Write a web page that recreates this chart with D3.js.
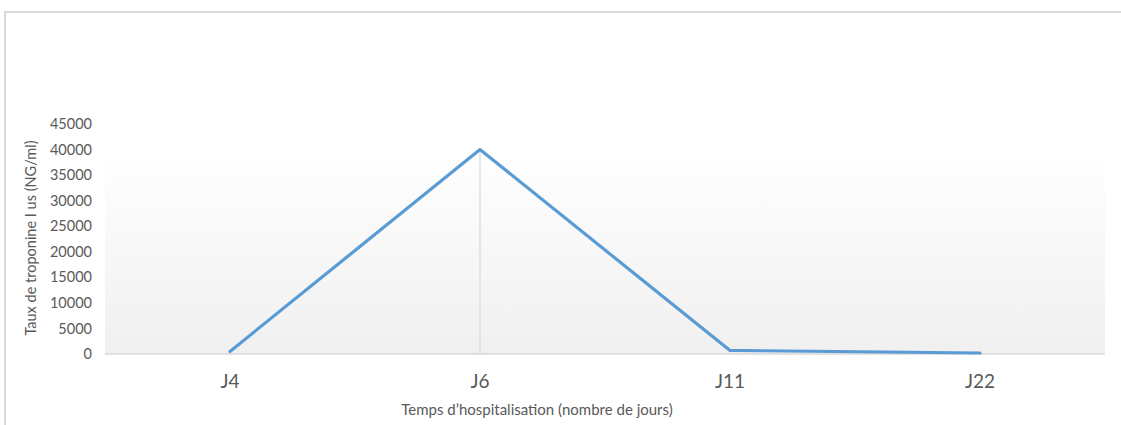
<!DOCTYPE html>
<html>
<head>
    <meta charset="UTF-8"/>
    <style>
        body {
            margin: 0;
            background: #fff;
            font-family: Lato, "Open Sans", Arial, sans-serif;
        }
    </style>
</head>
<body>
<script src="https://d3js.org/d3.v7.min.js"></script>
<div id="my_dataviz"></div>
<script>

    // data
    var categories = ["J4", "J6", "J11", "J22"];
    var troponine = [500, 40000, 700, 200];
    var yTicks = [0, 5000, 10000, 15000, 20000, 25000, 30000, 35000, 40000, 45000];

    var width = 1121, height = 425;
    var plot = {left: 105, right: 1105, top: 124, bottom: 354};

    var svg = d3.select("#my_dataviz")
        .append("svg")
        .attr("width", width)
        .attr("height", height);

    // outer chart frame (cut by the window on the right and bottom)
    svg.append("path")
        .attr("d", "M5,430 L5,12 L1130,12")
        .attr("fill", "none")
        .attr("stroke", "#d9d9d9")
        .attr("stroke-width", 2);

    var x = d3.scaleBand()
        .domain(categories)
        .range([plot.left, plot.right]);

    var y = d3.scaleLinear()
        .domain([0, 45000])
        .range([plot.bottom, plot.top]);

    // plot area with a soft gradient
    var grad = svg.append("defs").append("linearGradient")
        .attr("id", "bg")
        .attr("x1", 0).attr("y1", 0).attr("x2", 0).attr("y2", 1);
    grad.append("stop").attr("offset", "0%").attr("stop-color", "#fefefe");
    grad.append("stop").attr("offset", "100%").attr("stop-color", "#f0f0f0");

    svg.append("rect")
        .attr("x", plot.left)
        .attr("y", 160)
        .attr("width", plot.right - plot.left)
        .attr("height", plot.bottom - 160)
        .attr("fill", "url(#bg)");

    // y tick labels
    var yAxis = svg.append("g")
        .attr("transform", "translate(" + (plot.left - 13) + ",0)")
        .call(d3.axisLeft(y).tickValues(yTicks).tickSize(0).tickPadding(0).tickFormat(d3.format("d")));
    yAxis.select(".domain").remove();
    yAxis.selectAll("text")
        .attr("font-family", "Lato, 'Open Sans', sans-serif")
        .attr("font-size", "14.5px")
        .attr("fill", "#595959");

    // baseline
    svg.append("line")
        .attr("x1", plot.left).attr("x2", plot.right)
        .attr("y1", y(0)).attr("y2", y(0))
        .attr("stroke", "#d9d9d9")
        .attr("stroke-width", 1.5);

    // x tick labels
    var xAxis = svg.append("g")
        .attr("transform", "translate(0," + y(0) + ")")
        .call(d3.axisBottom(x).tickSize(0).tickPadding(21));
    xAxis.select(".domain").remove();
    xAxis.selectAll("text")
        .attr("font-family", "Lato, 'Open Sans', sans-serif")
        .attr("font-size", "19px")
        .attr("fill", "#595959");

    // drop line under the peak
    var peak = d3.maxIndex(troponine);
    svg.append("line")
        .attr("x1", x(categories[peak]) + x.bandwidth() / 2)
        .attr("x2", x(categories[peak]) + x.bandwidth() / 2)
        .attr("y1", y(troponine[peak]))
        .attr("y2", y(0))
        .attr("stroke", "#d9d9d9")
        .attr("stroke-width", 1.2);

    // the series
    var line = d3.line()
        .x(function(d, i) { return x(categories[i]) + x.bandwidth() / 2; })
        .y(function(d) { return y(d); });

    svg.append("path")
        .datum(troponine)
        .attr("d", line)
        .attr("fill", "none")
        .attr("stroke", "#5b9bd5")
        .attr("stroke-width", 3.2)
        .attr("stroke-linejoin", "round")
        .attr("stroke-linecap", "round");

    // axis titles
    svg.append("text")
        .attr("transform", "translate(36,238) rotate(-90)")
        .attr("text-anchor", "middle")
        .attr("font-size", "14.5px")
        .attr("fill", "#595959")
        .text("Taux de troponine I us (NG/ml)");

    svg.append("text")
        .attr("x", 537)
        .attr("y", 415)
        .attr("text-anchor", "middle")
        .attr("font-size", "15px")
        .attr("fill", "#595959")
        .text("Temps d’hospitalisation (nombre de jours)");

</script>
</body>
</html>
